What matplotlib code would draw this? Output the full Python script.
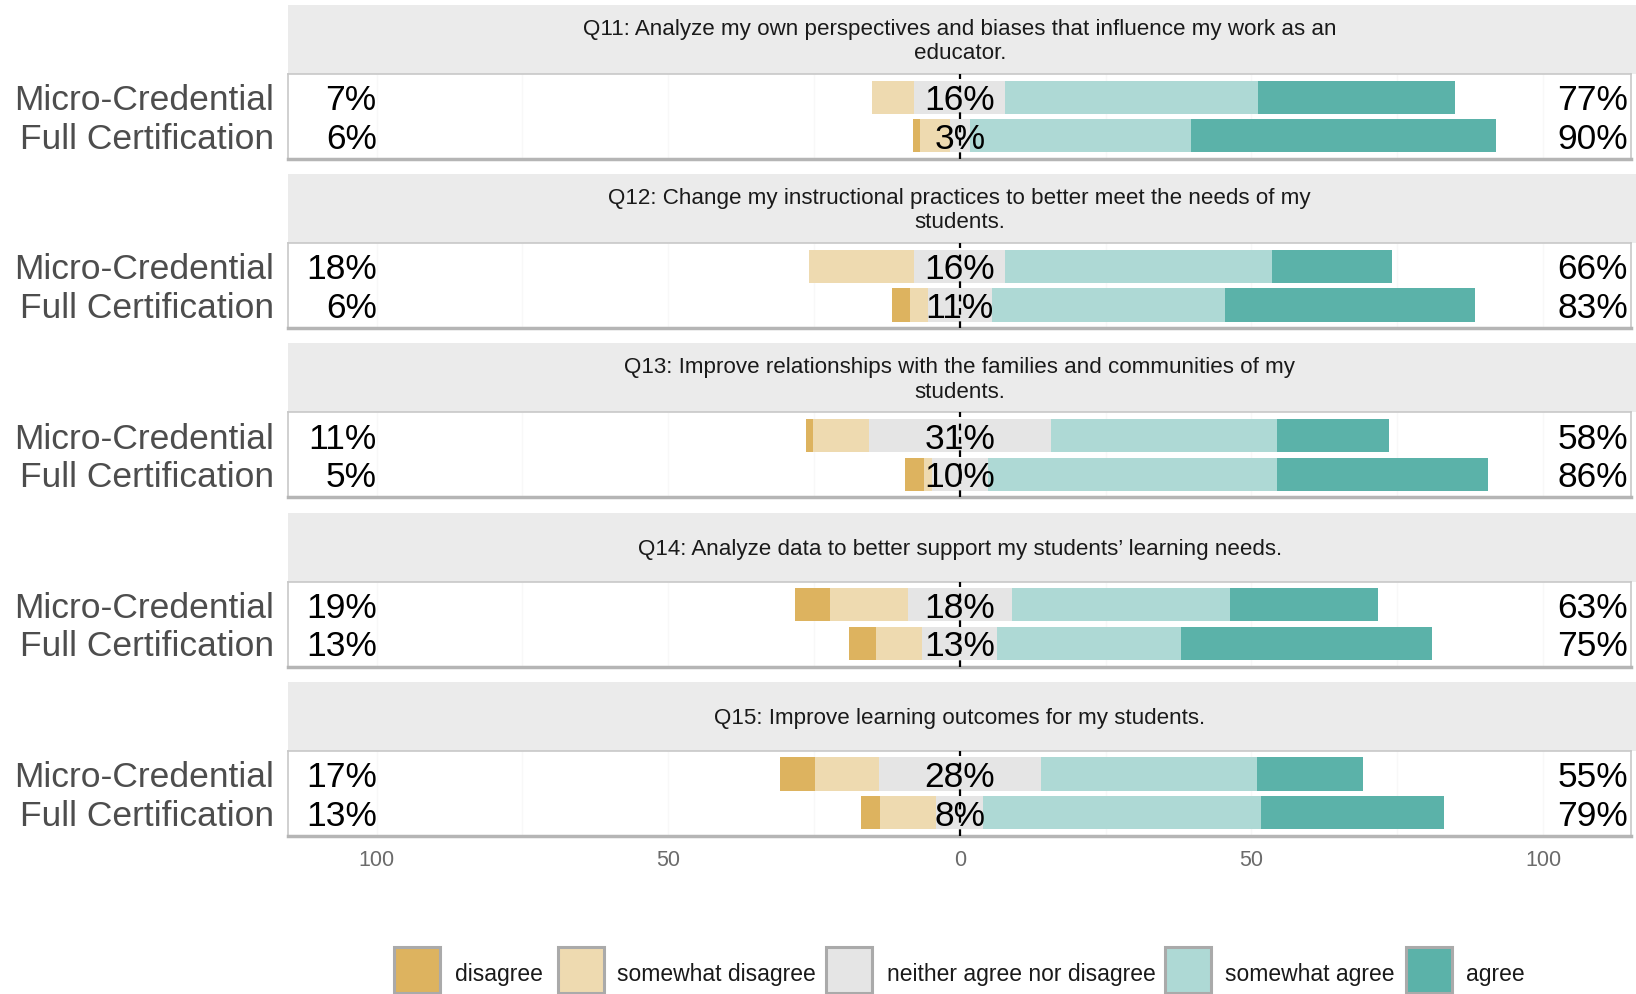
import numpy as np
import matplotlib
matplotlib.use("Agg")
import matplotlib.pyplot as plt
from matplotlib.patches import Rectangle

plt.rcParams['font.family'] = ['Liberation Sans', 'DejaVu Sans']

questions = [
    "Q11: Analyze my own perspectives and biases that influence my work as an\neducator.",
    "Q12: Change my instructional practices to better meet the needs of my\nstudents.",
    "Q13: Improve relationships with the families and communities of my\nstudents.",
    "Q14: Analyze data to better support my students\u2019 learning needs.",
    "Q15: Improve learning outcomes for my students.",
]
groups = ["Micro-Credential", "Full Certification"]
levels = ["disagree", "somewhat disagree", "neither agree nor disagree",
          "somewhat agree", "agree"]
colors = ["#DDB35F", "#EEDAB0", "#E5E5E5", "#AED9D5", "#5BB2A9"]

# Micro-Credential
micro_disagree = [0.0, 0.0, 1.1, 6.0, 6.0]
micro_swdisagree = [7.2, 18.1, 9.6, 13.3, 11.0]
micro_neutral = [15.6, 15.6, 31.3, 17.9, 27.7]
micro_swagree = [43.3, 45.8, 38.7, 37.4, 37.2]
micro_agree = [33.9, 20.5, 19.3, 25.4, 18.1]

# Full Certification
full_disagree = [1.3, 3.1, 3.2, 4.6, 3.3]
full_swdisagree = [5.1, 3.0, 1.4, 8.0, 9.7]
full_neutral = [3.4, 11.0, 9.6, 12.8, 8.0]
full_swagree = [38.0, 39.9, 49.6, 31.6, 47.6]
full_agree = [52.2, 43.0, 36.2, 43.0, 31.4]

xticks = [-100, -50, 0, 50, 100]
xticklabels = ["100", "50", "0", "50", "100"]

W, H = 1636, 994
fig = plt.figure(figsize=(W / 100, H / 100), dpi=100)

def fx(px):
    return px / W

def fy(py):
    return 1 - py / H

panel_left, panel_right = 288, 1631
strip_right = 1636
panel_top0, step, panel_h, strip_h = 74, 169.2, 85, 69
center_px = 959.7

def pct(v):
    return f"{int(np.floor(v + 0.5))}%"

for i, q in enumerate(questions):
    ptop = panel_top0 + i * step
    # strip
    sax = fig.add_axes([fx(panel_left), fy(ptop), fx(strip_right - panel_left), strip_h / H])
    sax.set_facecolor("#EBEBEB")
    sax.set_xticks([]); sax.set_yticks([])
    for s in sax.spines.values():
        s.set_visible(False)
    sax.set_xlim(0, 1); sax.set_ylim(0, 1)
    sax.text((center_px - panel_left) / (strip_right - panel_left), 0.47, q,
             ha="center", va="center", fontsize=16.1, color="#1A1A1A", linespacing=1.2)

    ax = fig.add_axes([fx(panel_left), fy(ptop + panel_h), fx(panel_right - panel_left), panel_h / H])
    ax.set_xlim(-115.2, 115.1)
    ax.set_ylim(0.4, 2.6)
    ax.set_facecolor("white")
    for g in np.arange(-100, 101, 25):
        ax.axvline(g, color="#F8F8F8", lw=1, zorder=0)

    rows = [
        (2, [micro_disagree[i], micro_swdisagree[i], micro_neutral[i], micro_swagree[i], micro_agree[i]]),
        (1, [full_disagree[i], full_swdisagree[i], full_neutral[i], full_swagree[i], full_agree[i]]),
    ]
    for y, vals in rows:
        d, sd, n, sa, a = vals
        start = -(d + sd + n / 2)
        left = start
        for v, c in zip(vals, colors):
            if v > 0:
                ax.barh(y, v, left=left, height=0.86, color=c, edgecolor="none", zorder=2)
            left += v
        kw = dict(va="center_baseline", fontsize=25.5, color="black", zorder=4)
        ax.text(-100, y, pct(d + sd), ha="right", **kw)
        ax.text(0, y, pct(n), ha="center", **kw)
        ax.text(114.6, y, pct(sa + a), ha="right", **kw)

    ax.axvline(0, color="black", lw=1.6, ls=(0, (3, 3)), zorder=3)
    ax.set_yticks([2, 1])
    ax.set_yticklabels(groups, fontsize=25.5, color="#4D4D4D")
    ax.tick_params(axis="y", length=0, pad=10)
    if i == len(questions) - 1:
        ax.set_xticks(xticks)
        ax.set_xticklabels(xticklabels, fontsize=15.5, color="#6B6B6B")
        ax.tick_params(axis="x", length=0, pad=10)
    else:
        ax.set_xticks([])
    for name, s in ax.spines.items():
        s.set_color("#C8C8C8")
        s.set_linewidth(1.2)
    ax.spines["bottom"].set_color("#B5B5B5")
    ax.spines["bottom"].set_linewidth(2.5)

# legend
key_x = [394, 558, 826, 1165, 1406]
text_x = [455, 617, 887, 1225, 1466]
key_w = 46
for kx, tx, lab, c in zip(key_x, text_x, levels, colors):
    fig.patches.append(Rectangle((fx(kx), fy(947 + key_w)), key_w / W, key_w / H,
                                 transform=fig.transFigure, facecolor=c,
                                 edgecolor="#AAAAAA", linewidth=2.2))
    fig.text(fx(tx), fy(975), lab, ha="left", va="center", fontsize=16.5, color="#1A1A1A")

fig.savefig("out.png", dpi=100)
